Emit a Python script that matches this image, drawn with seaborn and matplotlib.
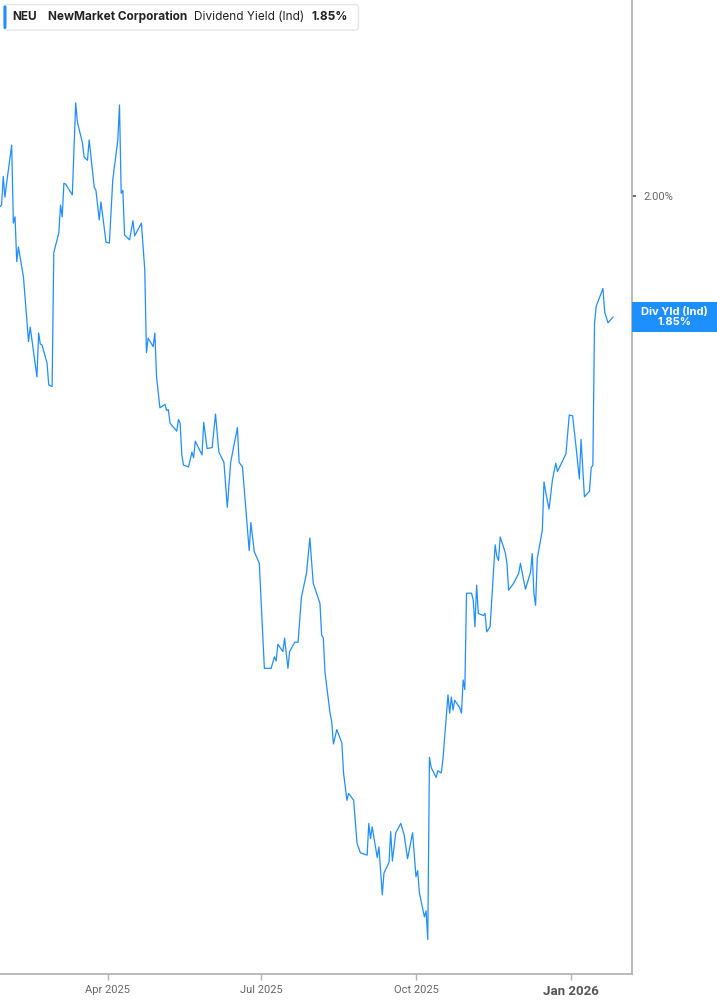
import pandas as pd
import matplotlib
matplotlib.use("Agg")
import matplotlib.pyplot as plt
import matplotlib.dates as mdates
from matplotlib.patches import Rectangle, FancyBboxPatch
from matplotlib.ticker import FixedLocator, NullLocator, FuncFormatter
import matplotlib.transforms as mtransforms
import seaborn as sns

# Dividend yield (%)
dates = [
    "2025-01-27", "2025-01-28", "2025-01-29", "2025-01-30", "2025-01-31", "2025-02-03", "2025-02-04",
    "2025-02-05", "2025-02-06", "2025-02-07", "2025-02-10", "2025-02-13", "2025-02-14", "2025-02-18",
    "2025-02-19", "2025-02-20", "2025-02-21", "2025-02-24", "2025-02-25", "2025-02-27", "2025-02-28",
    "2025-03-03", "2025-03-04", "2025-03-05", "2025-03-06", "2025-03-07", "2025-03-11", "2025-03-13",
    "2025-03-14", "2025-03-17", "2025-03-18", "2025-03-20", "2025-03-21", "2025-03-24", "2025-03-25",
    "2025-03-27", "2025-03-28", "2025-03-31", "2025-04-02", "2025-04-04", "2025-04-07", "2025-04-08",
    "2025-04-09", "2025-04-10", "2025-04-11", "2025-04-14", "2025-04-16", "2025-04-17", "2025-04-21",
    "2025-04-23", "2025-04-24", "2025-04-25", "2025-04-28", "2025-04-29", "2025-04-30", "2025-05-02",
    "2025-05-05", "2025-05-06", "2025-05-07", "2025-05-08", "2025-05-12", "2025-05-13", "2025-05-14",
    "2025-05-15", "2025-05-16", "2025-05-19", "2025-05-21", "2025-05-22", "2025-05-23", "2025-05-27",
    "2025-05-28", "2025-05-30", "2025-06-02", "2025-06-04", "2025-06-06", "2025-06-09", "2025-06-11",
    "2025-06-13", "2025-06-17", "2025-06-18", "2025-06-20", "2025-06-24", "2025-06-25", "2025-06-27",
    "2025-06-30", "2025-07-03", "2025-07-07", "2025-07-09", "2025-07-10", "2025-07-11", "2025-07-14",
    "2025-07-15", "2025-07-17", "2025-07-18", "2025-07-21", "2025-07-23", "2025-07-25", "2025-07-28",
    "2025-07-30", "2025-08-01", "2025-08-05", "2025-08-06", "2025-08-07", "2025-08-08", "2025-08-11",
    "2025-08-12", "2025-08-13", "2025-08-15", "2025-08-18", "2025-08-19", "2025-08-21", "2025-08-22",
    "2025-08-25", "2025-08-27", "2025-08-29", "2025-09-02", "2025-09-03", "2025-09-04", "2025-09-05",
    "2025-09-08", "2025-09-09", "2025-09-11", "2025-09-12", "2025-09-15", "2025-09-16", "2025-09-17",
    "2025-09-19", "2025-09-22", "2025-09-24", "2025-09-26", "2025-09-29", "2025-10-01", "2025-10-02",
    "2025-10-03", "2025-10-06", "2025-10-07", "2025-10-08", "2025-10-09", "2025-10-10", "2025-10-13",
    "2025-10-14", "2025-10-16", "2025-10-17", "2025-10-20", "2025-10-21", "2025-10-22", "2025-10-23",
    "2025-10-24", "2025-10-27", "2025-10-28", "2025-10-29", "2025-10-30", "2025-10-31", "2025-11-03",
    "2025-11-04", "2025-11-05", "2025-11-06", "2025-11-07", "2025-11-10", "2025-11-11", "2025-11-12",
    "2025-11-14", "2025-11-17", "2025-11-18", "2025-11-19", "2025-11-20", "2025-11-23", "2025-11-24",
    "2025-11-25", "2025-11-28", "2025-12-01", "2025-12-02", "2025-12-05", "2025-12-08", "2025-12-09",
    "2025-12-10", "2025-12-11", "2025-12-12", "2025-12-15", "2025-12-16", "2025-12-17", "2025-12-19",
    "2025-12-21", "2025-12-23", "2025-12-24", "2025-12-29", "2025-12-31", "2026-01-02", "2026-01-04",
    "2026-01-06", "2026-01-07", "2026-01-09", "2026-01-12", "2026-01-13", "2026-01-14", "2026-01-15",
    "2026-01-16", "2026-01-20", "2026-01-21", "2026-01-23", "2026-01-26",
]
div_yield = [
    1.986, 1.988, 2.025, 1.998, 2.016, 2.066, 1.965,
    1.973, 1.917, 1.935, 1.898, 1.821, 1.838, 1.780,
    1.831, 1.818, 1.817, 1.796, 1.771, 1.769, 1.928,
    1.953, 1.988, 1.973, 2.016, 2.015, 2.001, 2.123,
    2.097, 2.069, 2.050, 2.046, 2.073, 2.011, 2.007,
    1.969, 1.992, 1.941, 1.940, 2.020, 2.073, 2.120,
    2.003, 2.007, 1.950, 1.944, 1.968, 1.949, 1.965,
    1.907, 1.808, 1.825, 1.815, 1.831, 1.780, 1.745,
    1.749, 1.742, 1.743, 1.728, 1.719, 1.732, 1.728,
    1.693, 1.682, 1.680, 1.696, 1.690, 1.708, 1.693,
    1.729, 1.700, 1.701, 1.738, 1.696, 1.685, 1.637,
    1.685, 1.723, 1.685, 1.680, 1.592, 1.621, 1.591,
    1.579, 1.476, 1.476, 1.487, 1.483, 1.499, 1.492,
    1.505, 1.476, 1.492, 1.501, 1.501, 1.545, 1.569,
    1.605, 1.559, 1.539, 1.508, 1.505, 1.472, 1.434,
    1.426, 1.406, 1.419, 1.407, 1.380, 1.356, 1.362,
    1.356, 1.319, 1.311, 1.309, 1.336, 1.323, 1.333,
    1.307, 1.316, 1.276, 1.294, 1.303, 1.329, 1.304,
    1.328, 1.336, 1.326, 1.306, 1.328, 1.291, 1.296,
    1.278, 1.258, 1.263, 1.240, 1.394, 1.385, 1.376,
    1.382, 1.380, 1.392, 1.451, 1.434, 1.449, 1.437,
    1.446, 1.439, 1.434, 1.465, 1.456, 1.549, 1.549,
    1.542, 1.516, 1.557, 1.529, 1.527, 1.529, 1.511,
    1.516, 1.598, 1.586, 1.582, 1.606, 1.590, 1.579,
    1.552, 1.559, 1.569, 1.579, 1.553, 1.570, 1.589,
    1.549, 1.537, 1.584, 1.613, 1.664, 1.653, 1.635,
    1.666, 1.684, 1.675, 1.694, 1.737, 1.736, 1.702,
    1.667, 1.710, 1.648, 1.654, 1.679, 1.682, 1.843,
    1.863, 1.884, 1.856, 1.843, 1.850,
]

ticker = "NEU"
company = "NewMarket Corporation"
metric = "Dividend Yield (Ind)"
last_label = "Div Yld (Ind)"
yticks = [2.0]

blue = "#1e8fff"
grey_text = "#666666"
spine_col = "#b4b4b4"

df = pd.DataFrame({"date": pd.to_datetime(dates), "yield": div_yield})
last_val = div_yield[-1]

sns.set_theme(style="white")
plt.rcParams["font.family"] = ["Inter", "DejaVu Sans"]

W, H = 717, 1005
fig = plt.figure(figsize=(W / 100, H / 100), dpi=100)
ax = fig.add_axes([0, 30.7 / H, 632.3 / W, 1 - 30.7 / H])

sns.lineplot(data=df, x="date", y="yield", ax=ax, color=blue, linewidth=0.9,
             estimator=None, sort=False)

ax.set_yscale("log")
ax.set_ylim(1.2125, 2.268)
ax.set_xlim(pd.Timestamp("2025-01-27 01:40"), pd.Timestamp("2026-02-06 10:00"))

ax.yaxis.set_major_locator(FixedLocator(yticks))
ax.yaxis.set_minor_locator(NullLocator())
ax.yaxis.set_major_formatter(FuncFormatter(lambda v, p: f"{v:.2f}%"))
ax.yaxis.tick_right()

ax.xaxis.set_major_locator(mdates.MonthLocator(bymonth=[1, 4, 7, 10]))
ax.xaxis.set_minor_locator(NullLocator())
ax.xaxis.set_major_formatter(mdates.DateFormatter("%b %Y"))

ax.set_xlabel("")
ax.set_ylabel("")
for s in ["top", "left"]:
    ax.spines[s].set_visible(False)
for s in ["right", "bottom"]:
    ax.spines[s].set_visible(True)
    ax.spines[s].set_color(spine_col)
    ax.spines[s].set_linewidth(1.3)

ax.tick_params(axis="x", bottom=True, direction="out", length=4, width=1,
               color=spine_col, pad=4, labelsize=8, labelcolor=grey_text)
ax.tick_params(axis="y", right=True, left=False, labelright=True, labelleft=False,
               direction="out", length=3, width=1.2, color="#555555", pad=5,
               labelsize=8, labelcolor=grey_text)
for lab in ax.get_xticklabels():
    lab.set_family(["Roboto", "DejaVu Sans"])
    if lab.get_text().startswith("Jan"):
        lab.set_fontweight("bold")
        lab.set_fontsize(9.5)
        lab.set_color("#555555")
for lab in ax.get_yticklabels():
    lab.set_family(["Roboto", "DejaVu Sans"])

# last value tag on the right axis
fig.canvas.draw()
blend = mtransforms.blended_transform_factory(ax.transAxes, ax.transData)
px, py = blend.transform((1.0, last_val))
tag = Rectangle((px, py - 15), W - px, 30, transform=None, facecolor=blue,
                edgecolor="none", clip_on=False, zorder=5)
fig.patches.append(tag)
fig.text((px + (W - px) / 2) / W, py / H, f"{last_label}\n{last_val:.2f}%",
         ha="center", va="center", color="white", fontsize=8, fontweight="bold",
         linespacing=1.0, zorder=6)

# header box
head = FancyBboxPatch((3.5, H - 30), 355, 25.5, boxstyle="round,pad=0,rounding_size=3",
                      transform=None, facecolor="white", edgecolor="#e6e6e6",
                      linewidth=1, zorder=5)
fig.patches.append(head)
bar = FancyBboxPatch((3.5, H - 29), 3, 23.5, boxstyle="round,pad=0,rounding_size=1.5",
                     transform=None, facecolor=blue, edgecolor="none", zorder=6)
fig.patches.append(bar)
ty = 1 - 16.7 / H
fig.text(12.7 / W, ty, ticker, ha="left", va="center", fontsize=8.5, fontweight="bold",
         color="#222222", zorder=7)
fig.text(47.7 / W, ty, company, ha="left", va="center", fontsize=8.5, fontweight="bold",
         color="#222222", zorder=7)
fig.text(194 / W, ty, metric, ha="left", va="center", fontsize=8.5, color="#222222", zorder=7)
fig.text(312 / W, ty, f"{last_val:.2f}%", ha="left", va="center", fontsize=8.5,
         fontweight="bold", color="#222222", zorder=7)

fig.savefig("out.png", dpi=100)
